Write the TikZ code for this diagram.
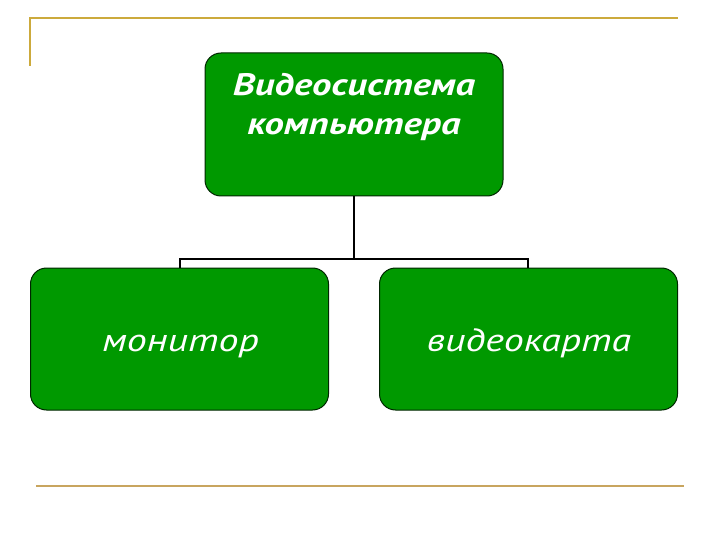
\documentclass[tikz,border=0pt]{standalone}
\usepackage{fontspec}
\setmainfont{PT Sans}[FakeStretch=1.25]
\definecolor{boxgreen}{RGB}{0,153,0}
\definecolor{goldline}{RGB}{204,170,60}
\definecolor{tanline}{RGB}{200,165,95}
\begin{document}
\begin{tikzpicture}[x=1pt,y=-1pt,
  greenbox/.style={draw=black!85!green,line width=1pt,fill=boxgreen,rounded corners=16pt,
    minimum width=298pt,minimum height=142pt,inner sep=0pt,text=white},
  conn/.style={draw=black,line width=2pt},
  toptext/.style={text=white,font=\fontsize{31}{39}\selectfont\bfseries\itshape,align=center,inner sep=0pt},
  lowtext/.style={font=\fontsize{32}{36}\selectfont\itshape}]
\useasboundingbox (0,0) rectangle (720,540);
% decorative lines
\draw[goldline,line width=2pt] (30,66) -- (30,18) -- (678,18);
\draw[tanline,line width=2pt] (36,486) -- (684,486);
% boxes
\node[greenbox,minimum height=143pt] (sys) at (354,124.5) {};
\node[toptext,anchor=base] (systext) at (354,135) {Видеосистема\\компьютера};
\node[greenbox] (mon) at (179.5,339) {};
\node[lowtext,text=white,anchor=base,inner sep=0pt] (montext) at (180.5,351) {монитор};
\node[greenbox] (card) at (528.5,339) {};
\node[lowtext,text=white,anchor=base,inner sep=0pt] (cardtext) at (529,351) {видеокарта};
% connectors
\coordinate (bus) at (354,259);
\draw[conn] (sys.south) -- (bus);
\draw[conn] (mon.north -| 180,0) |- (bus) -| (card.north -| 528,0);
\end{tikzpicture}
\end{document}
